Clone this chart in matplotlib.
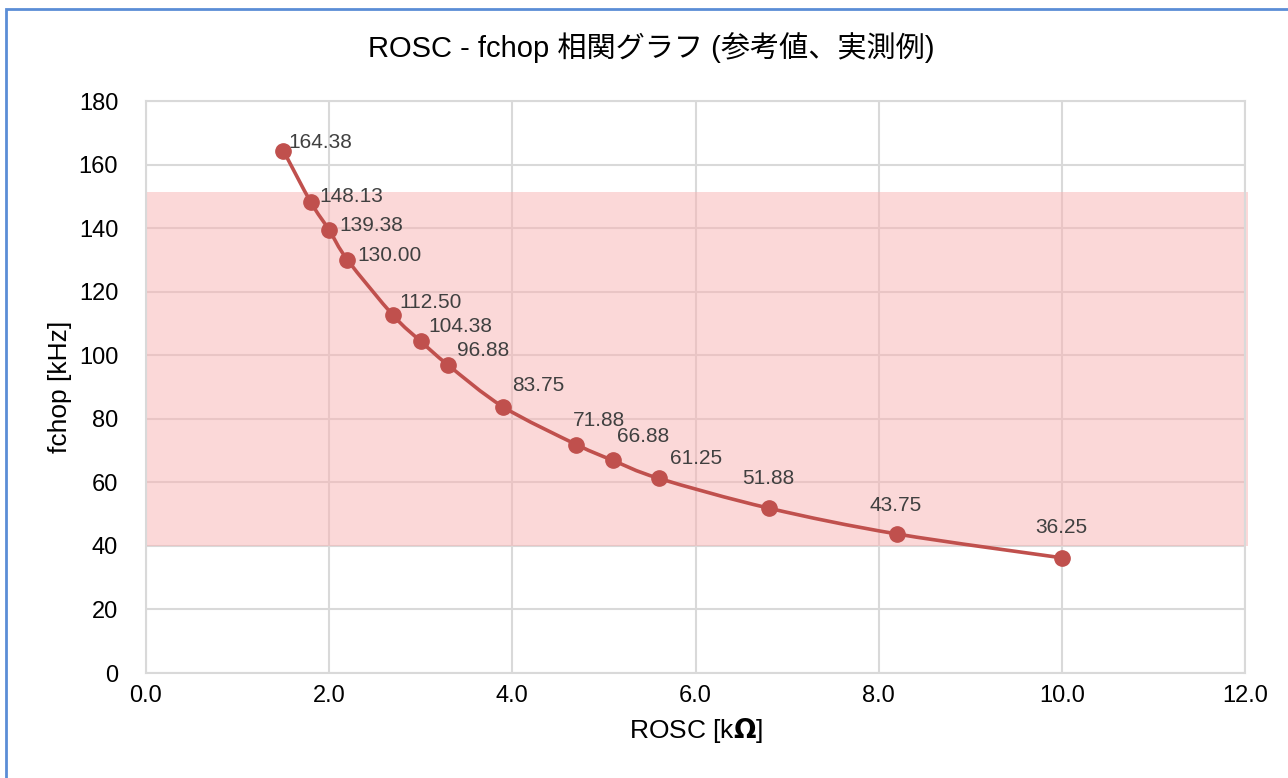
import numpy as np
import matplotlib.pyplot as plt
from matplotlib.path import Path
from matplotlib.patches import PathPatch, Rectangle

# fontes: latino + japones
plt.rcParams['font.family'] = ['Liberation Sans', 'Noto Sans CJK JP', 'DejaVu Sans']

# dados
rosc = [1.5, 1.8, 2.0, 2.2, 2.7, 3.0, 3.3, 3.9, 4.7, 5.1, 5.6, 6.8, 8.2, 10.0]  # kOhm
fchop = [164.38, 148.13, 139.38, 130.00, 112.50, 104.38, 96.88, 83.75,
         71.88, 66.88, 61.25, 51.88, 43.75, 36.25]  # kHz
band_lo, band_hi = 40, 151.5  # faixa rosa

# deslocamento dos rotulos (pixels), so estilo
lbl_off = [(5, 8), (9, 6), (10, 5), (10, 4), (6, 13), (8, 15), (9, 15), (9, 21),
           (-4, 24), (4, 24), (11, 20), (-27, 30), (-27, 28), (-27, 30)]

red = '#C0504D'

fig = plt.figure(figsize=(12.88, 7.78), dpi=100)
ax = fig.add_axes([146/1288, 1 - 673/778, (1245 - 146)/1288, (673 - 101)/778])

# borda azul do grafico
fig.add_artist(Rectangle((6/1288, -0.02), 1.05, 1 - 9/778 + 0.02, transform=fig.transFigure,
                         fill=False, edgecolor='#5B8DD6', lw=2, clip_on=False))

ax.set_xlim(0, 12)
ax.set_ylim(0, 180)
ax.set_xticks(np.arange(0, 12.1, 2))
ax.set_xticklabels([f'{v:.1f}' for v in np.arange(0, 12.1, 2)])
ax.set_yticks(np.arange(0, 181, 20))
ax.grid(True, color='#D9D9D9', lw=1.5, zorder=0)
ax.set_axisbelow(True)
for s in ax.spines.values():
    s.set_color('#D9D9D9')
    s.set_linewidth(1.5)
ax.tick_params(length=0, labelsize=17)
ax.tick_params(axis='y', pad=20)
ax.tick_params(axis='x', pad=9)

ax.axhspan(band_lo, band_hi, xmin=0, xmax=1.003, color='#F9B2B2', alpha=0.5, lw=0, zorder=1, clip_on=False)

# linha suavizada tipo excel (bezier)
pts = np.column_stack([rosc, fchop])
ext = np.vstack([pts[0], pts, pts[-1]])
verts = [tuple(pts[0])]
codes = [Path.MOVETO]
for i in range(len(pts) - 1):
    p0, p1, p2, p3 = ext[i], ext[i + 1], ext[i + 2], ext[i + 3]
    c1 = p1 + (p2 - p0) / 6
    c2 = p2 - (p3 - p1) / 6
    verts += [tuple(c1), tuple(c2), tuple(p2)]
    codes += [Path.CURVE4] * 3
ax.add_patch(PathPatch(Path(verts, codes), fill=False, edgecolor=red, lw=2.6, zorder=3))

ax.plot(rosc, fchop, 'o', color=red, ms=11, zorder=4)

for x, y, (dx, dy) in zip(rosc, fchop, lbl_off):
    ax.annotate(f'{y:.2f}', (x, y), xytext=(dx, dy), textcoords='offset pixels',
                ha='left', va='center', fontsize=15, color='#404040', zorder=5)

fig.text(651/1288, 1 - 48/778, 'ROSC - fchop 相関グラフ (参考値、実測例)', ha='center', va='center',
         fontsize=21)
ax.set_xlabel('ROSC [k$\\mathbf{\\Omega}$]', fontsize=19, labelpad=6)
ax.set_ylabel('fchop [kHz]', fontsize=19, labelpad=5)

fig.savefig('out.png', dpi=100)
